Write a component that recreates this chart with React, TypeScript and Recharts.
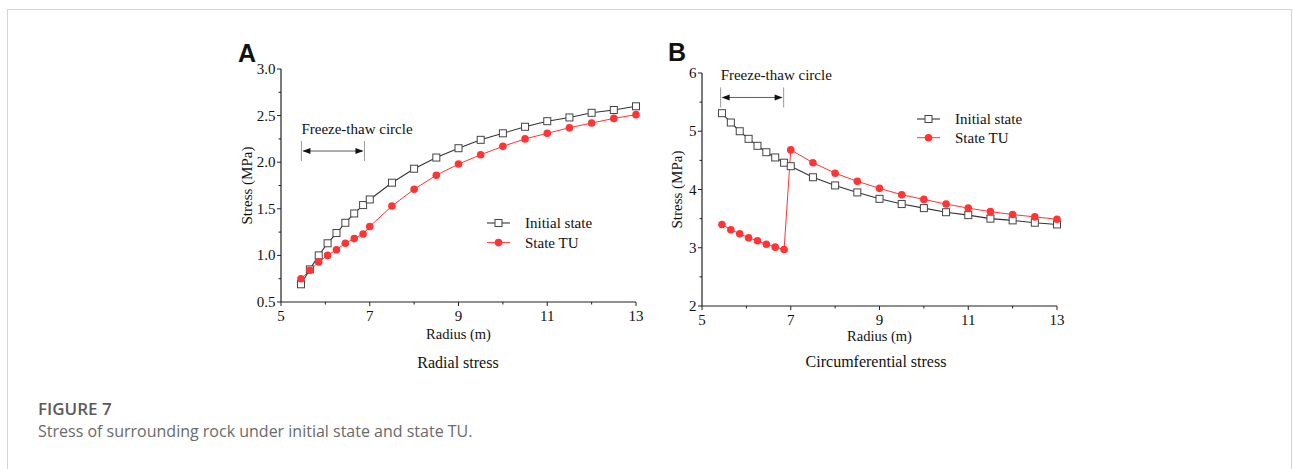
import React from "react";
import { LineChart, Line, XAxis, YAxis, ReferenceLine, Legend } from "recharts";

// radius positions (m) shared by both panels
const radius = [5.45, 5.65, 5.85, 6.05, 6.25, 6.45, 6.65, 6.85, 7, 7.5, 8, 8.5, 9, 9.5, 10, 10.5, 11, 11.5, 12, 12.5, 13];

// panel A: radial stress (MPa)
const radialInitial = [0.69, 0.85, 1.0, 1.13, 1.24, 1.35, 1.45, 1.54, 1.6, 1.78, 1.93, 2.05, 2.15, 2.24, 2.31, 2.38, 2.44, 2.48, 2.53, 2.56, 2.6];
const radialTU = [0.75, 0.84, 0.93, 1.0, 1.06, 1.13, 1.18, 1.23, 1.31, 1.53, 1.71, 1.86, 1.98, 2.08, 2.17, 2.25, 2.31, 2.37, 2.42, 2.47, 2.51];

// panel B: circumferential stress (MPa)
const circInitial = [5.31, 5.15, 5.0, 4.87, 4.75, 4.64, 4.55, 4.46, 4.4, 4.21, 4.07, 3.95, 3.84, 3.75, 3.68, 3.61, 3.56, 3.5, 3.47, 3.43, 3.4];
const circTU = [3.4, 3.31, 3.24, 3.17, 3.12, 3.06, 3.01, 2.97, 4.68, 4.46, 4.28, 4.14, 4.02, 3.91, 3.83, 3.75, 3.68, 3.62, 3.57, 3.53, 3.49];

// ticks
const xMajor = [5, 7, 9, 11, 13];
const xMinor = [6, 8, 10, 12];
const yMajorA = [0.5, 1.0, 1.5, 2.0, 2.5, 3.0];
const yMinorA = [0.75, 1.25, 1.75, 2.25, 2.75];
const yMajorB = [2, 3, 4, 5, 6];
const yMinorB = [2.5, 3.5, 4.5, 5.5];

const seriesNames = ["Initial state", "State TU"];

const SERIF = '"Liberation Serif", "Times New Roman", serif';
const BLACK = "#333";
const RED = "#ff3535";

const radialData = radius.map((r, i) => ({ r, initial: radialInitial[i], tu: radialTU[i] }));
const circData = radius.map((r, i) => ({ r, initial: circInitial[i], tu: circTU[i] }));

const XTick = (props: any) => {
  const { x, y, payload } = props;
  const major = xMajor.includes(payload.value);
  return (
    <g>
      <line x1={x} x2={x} y1={y} y2={y + (major ? 4 : 2.5)} stroke="#222" />
      {major && (
        <text x={x} y={y + 18.5} textAnchor="middle" fontFamily={SERIF} fontSize={15} fill="#111">
          {payload.value}
        </text>
      )}
    </g>
  );
};

const makeYTick = (majors: number[], fmt: (v: number) => string) => (props: any) => {
  const { x, y, payload } = props;
  const major = majors.includes(payload.value);
  return (
    <g>
      <line x1={x} x2={x - (major ? 4 : 2.5)} y1={y} y2={y} stroke="#222" />
      {major && (
        <text x={x - 5.5} y={y + 5} textAnchor="end" fontFamily={SERIF} fontSize={15} fill="#111">
          {fmt(payload.value)}
        </text>
      )}
    </g>
  );
};

const SquareDot = (p: any) => (
  <rect key={`sq-${p.index}`} x={p.cx - 3.5} y={p.cy - 3.5} width={7} height={7} fill="#fff" stroke="#444" strokeWidth={1} />
);

const FreezeArrow = (p: any) => {
  const { x1, y1, x2 } = p;
  return (
    <g>
      <line x1={x1} x2={x1} y1={y1 - 10} y2={y1 + 10} stroke="#999" />
      <line x1={x2} x2={x2} y1={y1 - 10} y2={y1 + 10} stroke="#999" />
      <line x1={x1 + 2} x2={x2 - 2} y1={y1} y2={y1} stroke="#333" strokeWidth={0.8} />
      <polygon points={`${x1 + 1},${y1} ${x1 + 9},${y1 - 3} ${x1 + 9},${y1 + 3}`} fill="#111" />
      <polygon points={`${x2 - 1},${y1} ${x2 - 9},${y1 - 3} ${x2 - 9},${y1 + 3}`} fill="#111" />
      <text x={x1} y={y1 - 17} fontFamily={SERIF} fontSize={15} fill="#111">
        Freeze-thaw circle
      </text>
    </g>
  );
};

const legendContent = (gap: number) => (props: any) => {
  const items = props.payload || [];
  return (
    <svg width={160} height={50} style={{ display: "block" }}>
      {items.map((it: any, i: number) => {
        const cy = 10 + i * gap;
        return (
          <g key={i}>
            <line x1={0} x2={23} y1={cy} y2={cy} stroke={i === 0 ? BLACK : RED} strokeWidth={i === 0 ? 1.1 : 1} />
            {i === 0 ? (
              <rect x={8} y={cy - 3.5} width={7} height={7} fill="#fff" stroke="#444" />
            ) : (
              <circle cx={11.5} cy={cy} r={3.8} fill={RED} />
            )}
            <text x={38} y={cy + 5} fontFamily={SERIF} fontSize={15} fill="#111">
              {it.value}
            </text>
          </g>
        );
      })}
    </svg>
  );
};

function Panel({
  data, left, top, yAxisWidth, marginTop, yDomain, yTicks, yMajor, fmt, arrow, legendPos, legendGap, xLabelOffset, yLabelOffset,
}: any) {
  return (
    <div style={{ position: "absolute", left, top }}>
      <LineChart width={yAxisWidth + 355 + 30} height={marginTop + 233 + 50} data={data}
        margin={{ top: marginTop, right: 30, bottom: 0, left: 0 }}>
        <XAxis
          dataKey="r" type="number" domain={[5, 13]} ticks={[...xMajor, ...xMinor].sort((a, b) => a - b)}
          interval={0} tickSize={0} tickMargin={0} tickLine={false} tick={<XTick />} height={50}
          axisLine={{ stroke: "#222", strokeWidth: 1.2 }}
          label={{ value: "Radius (m)", position: "insideBottom", offset: xLabelOffset, fontFamily: SERIF, fontSize: 14.5, fill: "#111" }}
        />
        <YAxis
          type="number" domain={yDomain} ticks={yTicks} interval={0} width={yAxisWidth}
          tickSize={0} tickMargin={0} tickLine={false} tick={makeYTick(yMajor, fmt)}
          axisLine={{ stroke: "#222", strokeWidth: 1.2 }}
          label={{ value: "Stress (MPa)", angle: -90, position: "insideLeft", offset: yLabelOffset,
            style: { textAnchor: "middle", fontFamily: SERIF, fontSize: 15, fill: "#111" } }}
        />
        <ReferenceLine segment={[{ x: arrow.from, y: arrow.y }, { x: arrow.to, y: arrow.y }]} shape={FreezeArrow} />
        <Line dataKey="initial" name={seriesNames[0]} stroke={BLACK} strokeWidth={1.1} dot={SquareDot}
          isAnimationActive={false} />
        <Line dataKey="tu" name={seriesNames[1]} stroke={RED} strokeWidth={1}
          dot={{ r: 3.8, fill: RED, stroke: RED, strokeWidth: 0 }} isAnimationActive={false} />
        <Legend layout="horizontal" verticalAlign="middle" align="center"
          wrapperStyle={{ left: legendPos[0], top: legendPos[1], width: 160 }}
          content={legendContent(legendGap)} />
      </LineChart>
    </div>
  );
}

export default function App() {
  const yTicksA = [...yMajorA, ...yMinorA].sort((a, b) => a - b);
  const yTicksB = [...yMajorB, ...yMinorB].sort((a, b) => a - b);
  return (
    <div style={{ position: "absolute", left: 0, top: 0, width: 1293, height: 469, background: "#fff", overflow: "hidden" }}>
      <div style={{ position: "absolute", left: 7, top: 9, width: 1285, height: 480, boxSizing: "border-box", border: "1.5px solid #d4d4d4" }} />
      <Panel
        data={radialData} left={190} top={40} yAxisWidth={91} marginTop={29}
        yDomain={[0.5, 3]} yTicks={yTicksA} yMajor={yMajorA} fmt={(v: number) => v.toFixed(1)}
        arrow={{ from: 5.46, to: 6.88, y: 2.12 }} legendPos={[297, 173]} legendGap={19.6}
        xLabelOffset={13} yLabelOffset={57}
      />
      <Panel
        data={circData} left={612} top={43} yAxisWidth={90} marginTop={30}
        yDomain={[2, 6]} yTicks={yTicksB} yMajor={yMajorB} fmt={(v: number) => String(v)}
        arrow={{ from: 5.42, to: 6.84, y: 5.58 }} legendPos={[305, 66]} legendGap={18.7}
        xLabelOffset={15} yLabelOffset={65}
      />
      <svg width={1293} height={469} style={{ position: "absolute", left: 0, top: 0, pointerEvents: "none" }}>
        <text x={238} y={62} fontFamily='"Liberation Sans", Arial, sans-serif' fontWeight="bold" fontSize={25} fill="#111">A</text>
        <text x={668} y={61} fontFamily='"Liberation Sans", Arial, sans-serif' fontWeight="bold" fontSize={25} fill="#111">B</text>
        <text x={458} y={368} textAnchor="middle" fontFamily={SERIF} fontSize={16} fill="#111">Radial stress</text>
        <text x={876} y={367} textAnchor="middle" fontFamily={SERIF} fontSize={16} fill="#111">Circumferential stress</text>
        <text x={38} y={415} fontFamily='"Open Sans", sans-serif' fontWeight={600} fontSize={17} fill="#5a5a5a">FIGURE 7</text>
        <text x={38} y={437} fontFamily='"Open Sans", sans-serif' fontSize={16} fill="#6a6a6a">
          Stress of surrounding rock under initial state and state TU.
        </text>
      </svg>
    </div>
  );
}
